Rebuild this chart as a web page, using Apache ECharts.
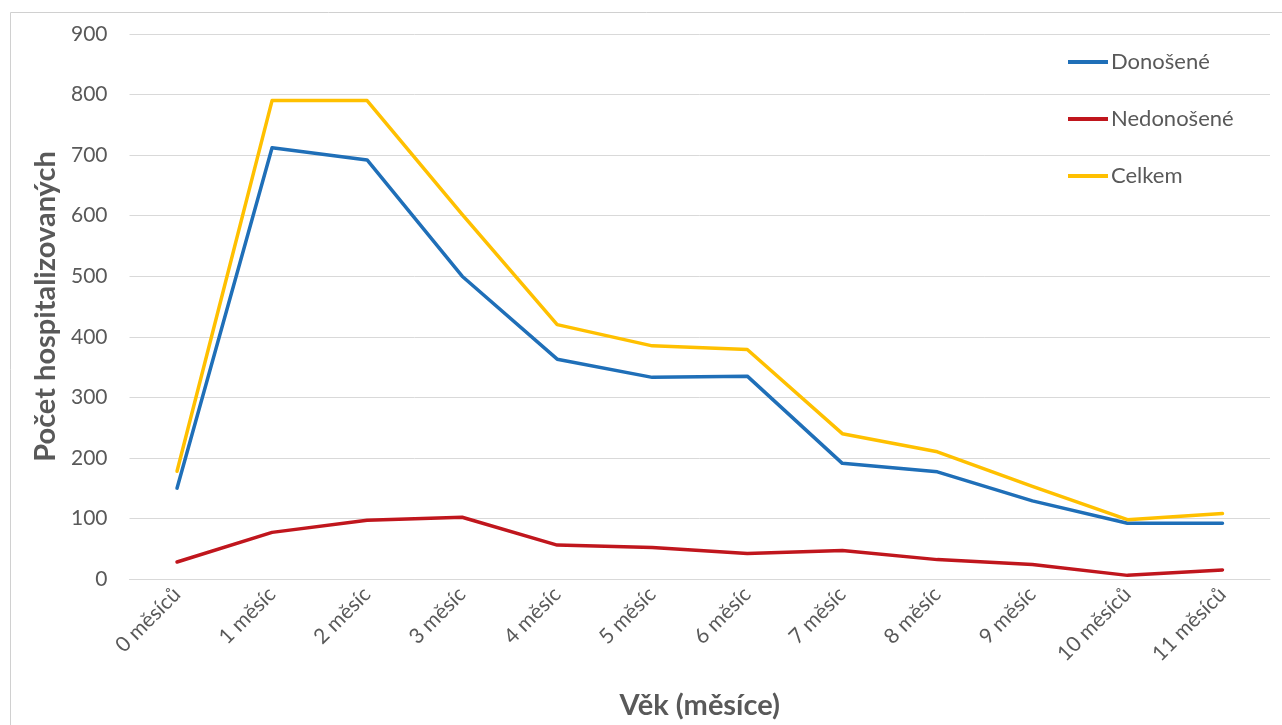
<!DOCTYPE html>
<html>
<head>
<meta charset="utf-8">
<script src="https://cdn.jsdelivr.net/npm/echarts@6/dist/echarts.min.js"></script>
<style>
  html, body { margin: 0; padding: 0; background: #fff; }
  #chart { width: 1282px; height: 725px; }
</style>
</head>
<body>
<div id="chart"></div>
<script>
// data
var categories = ['0 měsíců', '1 měsíc', '2 měsíc', '3 měsíc', '4 měsíc', '5 měsíc', '6 měsíc', '7 měsíc', '8 měsíc', '9 měsíc', '10 měsíců', '11 měsíců'];
var donosene = [150, 712, 692, 500, 363, 333, 335, 191, 177, 129, 92, 92];
var nedonosene = [28, 77, 97, 102, 56, 52, 42, 47, 32, 24, 6, 15];
var celkem = [178, 790, 790, 602, 420, 385, 379, 240, 210, 153, 98, 108];
var yTicks = [0, 900, 100]; // min, max, step

var font = 'Lato, "Open Sans", "Liberation Sans", sans-serif';
var myChart = echarts.init(document.getElementById('chart'));

function lineSeries(name, data, color) {
  return {
    name: name,
    type: 'line',
    data: data,
    symbol: 'none',
    smooth: false,
    lineStyle: { width: 3.5, color: color, cap: 'round', join: 'round' },
    itemStyle: { color: color }
  };
}

var option = {
  backgroundColor: '#fff',
  animation: false,
  textStyle: { fontFamily: font },
  graphic: [{
    type: 'rect',
    shape: { x: 10.5, y: 12.5, width: 1300, height: 750 },
    style: { fill: 'none', stroke: '#d0d0d0', lineWidth: 1 },
    silent: true
  }],
  grid: { left: 129.5, right: 12, top: 34, bottom: 146 },
  legend: {
    orient: 'vertical',
    left: 1063,
    top: 46,
    icon: 'rect',
    itemWidth: 40,
    itemHeight: 4,
    itemGap: 35,
    textStyle: { fontSize: 22, lineHeight: 22, color: '#595959', fontFamily: font, padding: [0, 0, 0, -2] },
    data: ['Donošené', 'Nedonošené', 'Celkem']
  },
  xAxis: {
    type: 'category',
    data: categories,
    boundaryGap: true,
    name: 'Věk (měsíce)',
    nameLocation: 'middle',
    nameGap: 112,
    nameTextStyle: { fontSize: 29, fontWeight: 'bold', color: '#595959', fontFamily: font },
    axisLine: { lineStyle: { color: '#d9d9d9', width: 1 } },
    axisTick: { show: false },
    axisLabel: { rotate: 45, fontSize: 21, color: '#595959', margin: 12, fontFamily: font }
  },
  yAxis: {
    type: 'value',
    min: yTicks[0],
    max: yTicks[1],
    interval: yTicks[2],
    name: 'Počet hospitalizovaných',
    nameLocation: 'middle',
    nameGap: 68,
    nameTextStyle: { fontSize: 29, fontWeight: 'bold', color: '#595959', fontFamily: font },
    axisLine: { show: false },
    axisTick: { show: false },
    splitLine: { lineStyle: { color: '#d9d9d9', width: 1 } },
    axisLabel: { fontSize: 21, color: '#595959', margin: 22, fontFamily: font }
  },
  series: [
    lineSeries('Donošené', donosene, '#1f6fb8'),
    lineSeries('Nedonošené', nedonosene, '#c0161d'),
    lineSeries('Celkem', celkem, '#ffc000')
  ]
};

myChart.setOption(option);
</script>
</body>
</html>
